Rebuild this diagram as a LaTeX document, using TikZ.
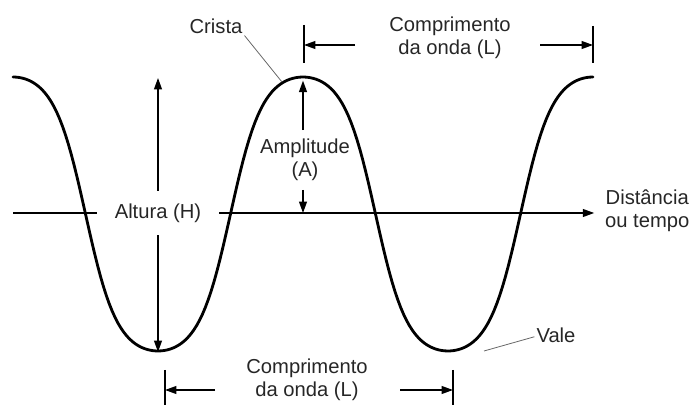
\documentclass[tikz,border=0pt]{standalone}
\usepackage{fontspec}
\setmainfont{Liberation Sans}
\usetikzlibrary{arrows.meta}
\tikzset{
  >={Triangle[length=6.5pt,width=4.5pt]},
  onda/.style={line width=1.6pt, line join=round, line cap=round},
  eixo/.style={->, line width=0.8pt},
  cota/.style={->, line width=0.8pt},
  marca/.style={line width=0.8pt},
  chamada/.style={line width=0.45pt, draw=black!60},
  rotulo/.style={font=\fontsize{11.5}{13}\selectfont, align=center, inner sep=1pt, text=black!85},
}
\begin{document}
\begin{tikzpicture}[x=0.02cm, y=-0.02cm]
  \useasboundingbox (0,0) rectangle (691,405);
  % Cristas e vales
  \coordinate (c0) at (13,78);
  \coordinate (c1) at (303,78);
  \coordinate (c2) at (593,78);
  \coordinate (v1) at (158,352);
  \coordinate (v2) at (448,352);
  % Eixo horizontal
  \coordinate (e0) at (13,213);
  \node[rotulo, anchor=west] (dist) at (603,211) {Distância\\ou tempo};
  \draw[eixo, shorten >=5pt] (e0) -- (e0 -| dist.west);
  % Onda
  \draw[onda] plot[domain=13:593, samples=200]
    (\x, {214 - 137*tanh(1.3*cos(1.241379*(\x-13)))/tanh(1.3)});
  % Altura
  \node[rotulo, fill=white, inner xsep=10pt, inner ysep=7pt] (altura) at (158,213) {Altura (H)};
  \draw[cota] (altura.north) -- (altura.north |- c0);
  \draw[cota] (altura.south) -- (v1);
  % Amplitude
  \node[rotulo, inner ysep=5pt] (amp) at (305,160) {Amplitude\\(A)};
  \draw[cota, shorten >=1.5pt] (amp.north -| c1) -- (c1);
  \draw[cota] (amp.south -| c1) -- (c1 |- e0);
  % Crista e vale
  \node[rotulo] (crista) at (216,26) {Crista};
  \coordinate (pc) at (282,82);
  \draw[chamada] (crista.south east) -- (pc);
  \node[rotulo] (vale) at (556,335) {Vale};
  \coordinate (pv) at (484,351);
  \draw[chamada] ([yshift=-1pt]vale.west) -- (pv);
  % Comprimento da onda (topo)
  \node[rotulo] (ltopo) at (450,38) {Comprimento\\da onda (L)};
  \coordinate (t1) at (304,45);
  \coordinate (t2) at (593,45);
  \coordinate (a1) at (355,45);
  \coordinate (a2) at (540,45);
  \draw[marca] (t1) ++(0,-20) -- ++(0,38);
  \draw[marca] (t2) ++(0,-19) -- ++(0,37);
  \draw[cota] (a1) -- (t1);
  \draw[cota] (a2) -- (t2);
  % Comprimento da onda (base)
  \node[rotulo] (lbase) at (307,380) {Comprimento\\da onda (L)};
  \coordinate (b1) at (165,390);
  \coordinate (b2) at (453,390);
  \coordinate (d1) at (215,390);
  \coordinate (d2) at (400,390);
  \draw[marca] (b1) ++(0,-20) -- ++(0,36);
  \draw[marca] (b2) ++(0,-20) -- ++(0,36);
  \draw[cota] (d1) -- (b1);
  \draw[cota] (d2) -- (b2);
\end{tikzpicture}
\end{document}
